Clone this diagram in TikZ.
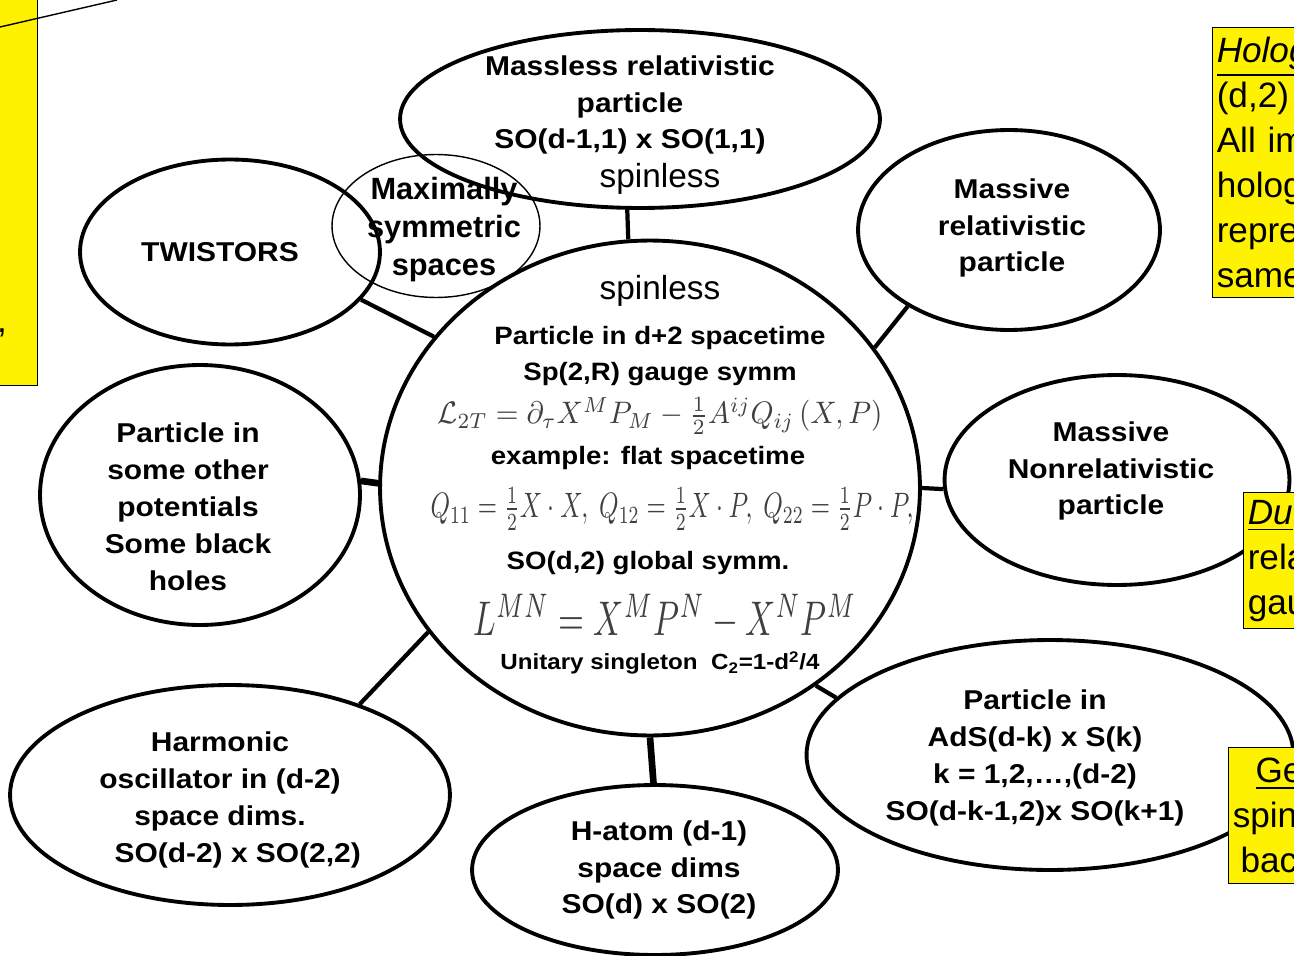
\documentclass[tikz,border=0pt]{standalone}
\usepackage{amsmath,amssymb}
\usepackage{fontspec}
\setmainfont{Liberation Sans}
\newfontfamily\diagfont[FakeStretch=1.1]{Liberation Sans}
\usetikzlibrary{shapes.geometric,positioning}

\begin{document}
\begin{tikzpicture}[x=0.02cm, y=-0.02cm,
  oval/.style={draw, ellipse, line width=2.2pt, inner sep=0pt},
  thinoval/.style={draw, ellipse, line width=0.8pt, inner sep=0pt},
  lbl/.style={font=\diagfont\bfseries\fontsize{15.5}{21}\selectfont, align=center, inner sep=0pt},
  corelbl/.style={font=\diagfont\bfseries\fontsize{14.3}{20.5}\selectfont, align=center, inner sep=0pt},
  symlbl/.style={font=\bfseries\fontsize{17.5}{21.6}\selectfont, align=center, inner sep=0pt},
  plain/.style={font=\fontsize{19}{22}\selectfont, inner sep=0pt},
  formula/.style={text=black!75, inner sep=0pt},
  link/.style={line width=2.4pt},
  heavy/.style={line width=3.8pt},
  note/.style={draw, fill=yellow, line width=0.8pt, anchor=north west, align=left,
    font=\fontsize{20}{25.6}\selectfont, inner xsep=2.3pt, inner ysep=0pt, text width=3cm},
]
  \useasboundingbox (0,0) rectangle (1294,956);

  % outer ovals
  \node[oval, minimum width=9.6cm, minimum height=3.56cm] (mless) at (640,119) {};
  \node[oval, minimum width=6.04cm, minimum height=4cm] (mrel) at (1009,230) {};
  \node[oval, minimum width=6cm, minimum height=3.7cm] (twist) at (230,252) {};
  \node[oval, minimum width=6.4cm, minimum height=5.2cm] (other) at (200,495) {};
  \node[oval, minimum width=6.9cm, minimum height=4.2cm] (mnon) at (1117,480) {};
  \node[oval, minimum width=8.8cm, minimum height=4.4cm] (harm) at (230,795) {};
  \node[oval, minimum width=7.32cm, minimum height=3.4cm] (hatom) at (655,870) {};
  \node[oval, minimum width=9.74cm, minimum height=4.6cm] (ads) at (1050,755) {};
  \node[thinoval, minimum width=4.16cm, minimum height=2.86cm] (msym) at (436,226) {};
  \node[oval, minimum width=10.8cm, minimum height=9.9cm] (core) at (650,488) {};

  \node[lbl] (mlesslbl) at (630,105) {Massless relativistic\\particle\\SO(d-1,1) x SO(1,1)};
  \node[plain] (mlessspin) at (660,179) {spinless};
  \node[lbl] (mrellbl) at (1012,228) {Massive\\relativistic\\particle};
  \node[lbl] (twistlbl) at (220,252) {TWISTORS};
  \node[symlbl] (msymlbl) at (444,230) {Maximally\\symmetric\\spaces};
  \node[lbl] (otherlbl) at (188,507) {Particle in\\some other\\potentials\\Some black\\holes};
  \node[lbl] (mnonlbl) at (1111,471) {Massive\\Nonrelativistic\\particle};
  \node[lbl] (harmlbl) at (220,800) {Harmonic\\oscillator in (d-2)\\space dims.\\\hspace{1.3em}SO(d-2) x SO(2,2)};
  \node[lbl] (hatomlbl) at (659,870) {H-atom (d-1)\\space dims\\SO(d) x SO(2)};
  \node[lbl] (adslbl) at (1035,758) {Particle in\\AdS(d-k) x S(k)\\k = 1,2,…,(d-2)\\SO(d-k-1,2)x SO(k+1)};

  % inside the core
  \node[plain] (corespin) at (660,291) {spinless};
  \node[corelbl] (coregauge) at (660,356) {Particle in d+2 spacetime\\Sp(2,R) gauge symm};
  \node[formula] (lagr) at (660,416) {\resizebox*{8.9cm}{0.74cm}{$\mathcal{L}_{2T}=\partial_\tau X^M P_M-\frac{1}{2}A^{ij}Q_{ij}\,(X,P)$}};
  \node[corelbl] (flat) at (648,458) {example: flat spacetime};
  \node[formula] (qs) at (672,509) {\resizebox*{9.66cm}{0.84cm}{$Q_{11}=\frac{1}{2}X\cdot X,\ Q_{12}=\frac{1}{2}X\cdot P,\ Q_{22}=\frac{1}{2}P\cdot P,$}};
  \node[corelbl] (glob) at (648,563) {SO(d,2) global symm.};
  \node[formula] (lmn) at (665,617) {\resizebox*{7.66cm}{0.9cm}{$L^{MN}=X^MP^N-X^NP^M$}};
  \node[corelbl, font=\diagfont\bfseries\fontsize{12.5}{15}\selectfont] (single) at (660,663) {Unitary singleton\ \ C\textsubscript{2}=1-d\textsuperscript{2}/4};

  % spokes
  \draw[link] (mless.262) -- (core.95);
  \draw[link] (twist.340) -- (core.145);
  \draw[link] (mrel.217) -- (core.32);
  \draw[heavy] (other.5) -- (core.179);
  \draw[link] (mnon.183) -- (core.0);
  \draw[link] (harm.35) -- (core.213);
  \draw[heavy] (hatom.91) -- (core.270);
  \draw[link] (ads.165) -- (core.310);

  % yellow notes
  \node[note, anchor=south east, minimum width=1.5cm, minimum height=8cm, text width=1cm] (leftnote) at (38,386) {};
  \node[inner sep=0pt, font=\fontsize{20}{24}\selectfont] (leftcomma) at (2,333) {,};
  \coordinate (ptrA) at (0,27);
  \coordinate (ptrB) at (117,0);
  \draw[line width=0.8pt] (ptrA) -- (ptrB);
  \node[note, minimum height=5.4cm] (holo) at (1212,27) {\underline{\textit{Holog}}\\(d,2)\\All im\\holog\\repre\\same};
  \node[note, minimum height=2.72cm] (dual) at (1243,492) {\underline{\textit{Du}}\\rela\\gau};
  \node[note, minimum height=2.72cm] (geo) at (1228,747) {\hspace{13pt}\underline{Ge}\\spin\\\hspace{4.5pt}bac};
\end{tikzpicture}
\end{document}
